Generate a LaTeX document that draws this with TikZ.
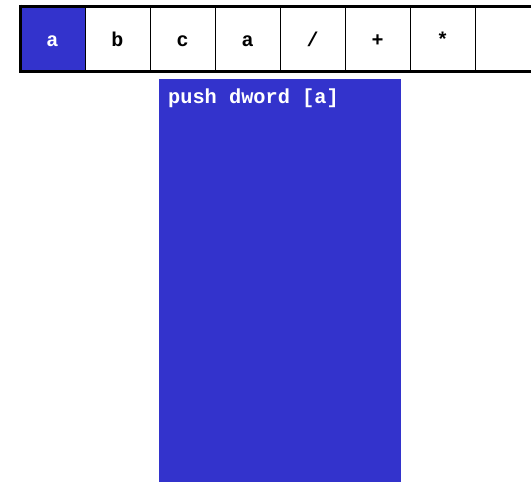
\documentclass[tikz,border=0pt]{standalone}
\usepackage{fontspec}
\setmonofont{Liberation Mono}
\definecolor{cellblue}{HTML}{3333CC}
\begin{document}
\begin{tikzpicture}[x=1pt,y=-1pt,
  cell/.style={draw=black, line width=0.8pt, minimum width=65pt, minimum height=65pt, inner sep=0pt, outer sep=0pt, anchor=north west, text height=15pt, text depth=0pt, font=\ttfamily\bfseries\fontsize{20}{20}\selectfont},
  hot/.style={cell, fill=cellblue, text=white},
  codetxt/.style={font=\ttfamily\bfseries\fontsize{20.3}{20.3}\selectfont, text=white, inner sep=0pt, anchor=base west}]
\useasboundingbox (0,0) rectangle (531,482);
\clip (0,0) rectangle (531,482);
\node[hot]  (c1) at (20,6) {a};
\node[cell] (c2) at (85,6) {b};
\node[cell] (c3) at (150,6) {c};
\node[cell] (c4) at (215,6) {a};
\node[cell] (c5) at (280,6) {/};
\node[cell] (c6) at (345,6) {+};
\node[cell] (c7) at (410,6) {*};
\node[cell] (c8) at (475,6) {};
\draw[line width=3pt] (c1.north west) -- (c8.north east);
\draw[line width=3pt] (c1.south west) -- (c8.south east);
\draw[line width=3pt] ([yshift=1.5pt]c1.north west) -- ([yshift=-1.5pt]c1.south west);
\node[fill=cellblue, minimum width=242pt, minimum height=403pt, inner sep=0pt, outer sep=0pt, anchor=north west] (stack) at (159,79) {};
\node[codetxt] (code) at (168,103) {push dword [a]};
\end{tikzpicture}
\end{document}
